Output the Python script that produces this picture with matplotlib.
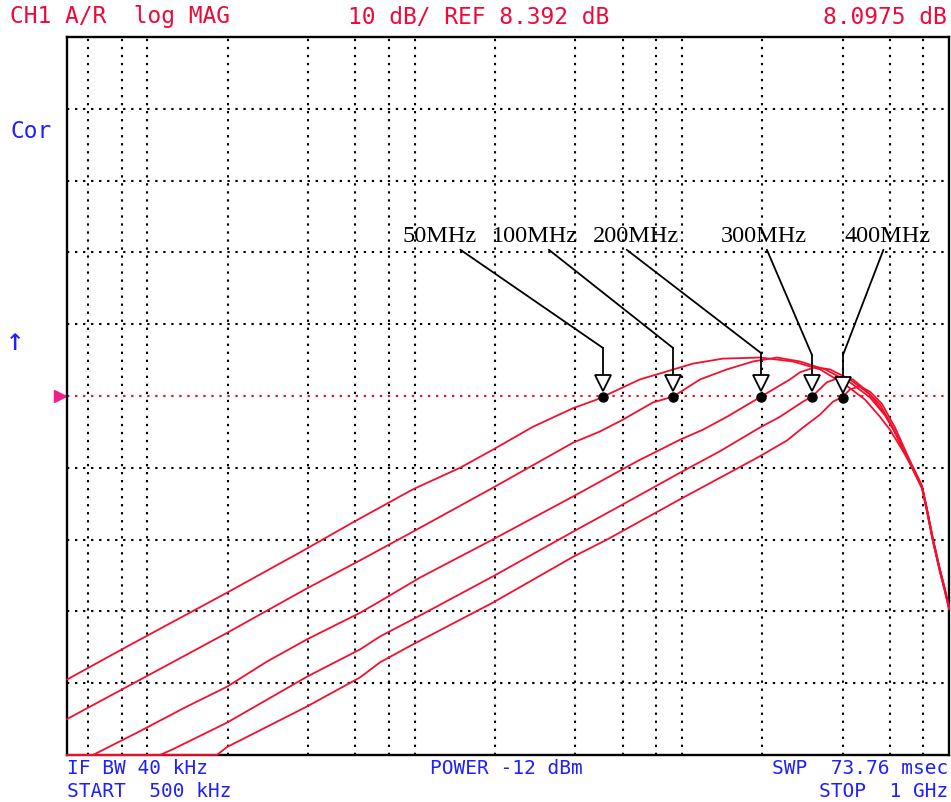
import numpy as np
import matplotlib.pyplot as plt
import matplotlib.transforms as mtransforms

# --- analyzer settings (log sweep 500 kHz .. 1 GHz, 10 dB/div) ---
ref_db = 8.392
db_per_div = 10
f_start, f_stop = 0.5, 1000.0          # MHz

# vertical graticule lines (MHz)
grid_freqs = [0.6, 0.8, 1, 2, 4, 6, 8, 10, 20, 40, 60, 80, 100, 200, 400, 600, 800]

# --- traces (MHz, dB) ---
f_50 = [0.5, 0.839, 1.985, 3.72, 5.88, 9.86, 14.8, 19.6, 27.7, 39.2, 48.1, 50.7, 69.7, 110,
        142.6, 196, 260.6, 329, 408, 484.7, 551.6, 601, 655.6, 733, 792.5, 827, 871, 924.6, 966, 1000]
db_50 = [-31.1, -26.5, -19.0, -13.4, -9.2, -4.6, -1.6, 0.9, 4.1, 6.7, 7.9, 8.3, 10.7, 12.9,
         13.6, 13.75, 13.2, 12.1, 10.0, 7.9, 5.5, 3.7, 1.4, -1.6, -4.2, -7.4, -11.6, -15.8, -18.6, -21.0]

f_100 = [0.5, 0.839, 1.985, 3.955, 6.25, 9.86, 19.6, 39.2, 49.4, 60.2, 78, 92.7, 117, 147.6,
         184.7, 227, 276.8, 343.5, 425.8, 506, 575.8, 628, 672.6, 733, 792.5, 827, 871, 924.6, 966, 1000]
db_100 = [-36.6, -32.1, -24.6, -18.4, -14.5, -10.5, -4.4, 1.9, 3.45, 5.1, 7.5, 8.3, 10.7, 12.1,
          13.2, 13.75, 13.2, 12.1, 10.3, 8.2, 5.7, 3.3, 0.9, -1.9, -4.5, -7.7, -11.9, -16.1, -18.9, -21.3]

f_200 = [0.5, 0.626, 0.789, 0.914, 1.406, 1.985, 2.80, 3.955, 6.25, 7.42, 10.47, 19.6, 39.2, 68,
         98.4, 120, 147.6, 197.8, 254, 276.8, 315, 358.6, 425.8, 506, 586, 655.6, 733, 792.5, 827,
         871, 924.6, 966, 1000]
db_200 = [-41.6, -41.6, -39.7, -38.5, -34.85, -32.1, -28.6, -25.5, -21.8, -20.2, -16.9, -11.6, -5.6, -0.7,
          2.3, 3.7, 5.5, 8.3, 10.7, 11.7, 12.4, 12.1, 10.7, 8.6, 5.4, 2.0, -1.8, -4.4, -7.6,
          -11.8, -16.0, -18.8, -21.2]

f_300 = [0.5, 1.115, 1.246, 1.985, 3.955, 6.25, 7.42, 9.86, 19.6, 39.2, 60.2, 98.4, 138.9, 196,
         233, 284, 307, 349, 390.8, 437, 484.7, 551.6, 617, 684, 733, 792.5, 827, 871, 924.6, 966, 1000]
db_300 = [-41.6, -41.6, -40.8, -37.1, -30.7, -26.9, -25.1, -22.7, -16.75, -10.5, -6.7, -2.3, 0.7, 4.0,
          5.5, 7.6, 8.3, 10.3, 11.0, 10.7, 9.3, 7.2, 4.0, 0.5, -1.7, -4.3, -7.5, -11.7, -15.9, -18.7, -21.1]

f_400 = [0.5, 1.821, 1.985, 3.955, 6.25, 7.42, 9.86, 19.6, 39.2, 52.5, 98.4, 196, 247.6, 284,
         329, 368, 401, 425.8, 464, 506, 561, 628, 696, 733, 792.5, 827, 871, 924.6, 966, 1000]
db_400 = [-41.6, -41.6, -40.5, -34.85, -30.8, -28.7, -26.2, -20.4, -14.0, -11.6, -6.0, 0.0, 2.2, 4.0,
          5.8, 7.6, 8.3, 9.3, 9.75, 9.0, 7.3, 4.0, 0.3, -1.5, -4.1, -7.3, -11.5, -15.7, -18.5, -20.9]

traces = [(f_50, db_50), (f_100, db_100), (f_200, db_200), (f_300, db_300), (f_400, db_400)]

# markers and their callouts
marker_labels = ['50MHz', '100MHz', '200MHz', '300MHz', '400MHz']
marker_freqs = [50.7, 92.7, 197.8, 307, 401]
marker_db = [8.3, 8.3, 8.3, 8.3, 8.1]
label_x = [0.4229, 0.5306, 0.6451, 0.7902, 0.9308]     # axes fraction
label_relpos = [0.72, 0.62, 0.35, 0.52, 0.46]
kink_y = [0.5669, 0.5669, 0.5599, 0.5571, 0.5571]
tri_top_y = [0.5265, 0.5265, 0.5237, 0.5237, 0.5237]

RED = '#f0083a'
BLUE = '#1f1fff'
TRACE = '#f2102e'

fig = plt.figure(figsize=(9.51, 8.02), dpi=100)
fig.patch.set_facecolor('white')
W, H = 951, 802
ax = fig.add_axes([67 / W, (H - 755) / H, 882 / W, 718 / H])

ax.set_xscale('log')
ax.set_xlim(f_start, f_stop)
ax.set_ylim(ref_db - 5 * db_per_div, ref_db + 5 * db_per_div)
ax.set_xticks([])
ax.set_yticks([])
ax.minorticks_off()
for s in ax.spines.values():
    s.set_linewidth(1.7)
    s.set_color('black')
    s.set_zorder(2.5)

# graticule
dots = (0, (1.1, 2.75))
for f in grid_freqs:
    ax.axvline(f, color='black', lw=1.5, ls=dots, zorder=1)
for k in [-4, -3, -2, -1, 1, 2, 3, 4]:
    ax.axhline(ref_db + k * db_per_div, color='black', lw=1.5, ls=dots, zorder=1)
ax.axhline(ref_db, color='#f01020', lw=1.5, ls=dots, zorder=1)

# reference position pointer
ref_tr = mtransforms.blended_transform_factory(ax.transAxes, ax.transData)
ax.plot([-0.0085], [ref_db], marker='>', ms=8, color='#f0208a', transform=ref_tr, clip_on=False)

# traces
for f, d in traces:
    ax.plot(f, d, color=TRACE, lw=1.3, zorder=3, clip_on=False)

# markers: filled dot + open triangle above
tri_tr = ax.transData + mtransforms.ScaledTranslation(0, 0.135, fig.dpi_scale_trans)
ax.plot(marker_freqs, marker_db, 'o', color='black', ms=6.5, zorder=5)
ax.plot(marker_freqs, marker_db, 'v', mfc='white', mec='black', mew=1.3, ms=11,
        transform=tri_tr, zorder=5)

blend = mtransforms.blended_transform_factory(ax.transData, ax.transAxes)
for lab, fm, lx, rp, ky, ty in zip(marker_labels, marker_freqs, label_x, label_relpos, kink_y, tri_top_y):
    ax.plot([fm, fm], [ky, ty], color='black', lw=1.3, transform=blend, zorder=4)
    ax.annotate(lab, xy=(fm, ky), xycoords=('data', 'axes fraction'),
                xytext=(lx, 0.7222), textcoords='axes fraction',
                ha='center', va='center', fontsize=17.5, family='Liberation Serif', color='black',
                arrowprops=dict(arrowstyle='-', color='black', lw=1.3, relpos=(rp, 0),
                                shrinkA=0, shrinkB=0))

# screen annotations
mono = dict(family='DejaVu Sans Mono', fontsize=16.5, va='center')
fig.text(10 / W, 1 - 17 / H, 'CH1 A/R  log MAG', color=RED, **mono)
fig.text(348 / W, 1 - 17 / H, '10 dB/ REF 8.392 dB', color=RED, **mono)
fig.text(947 / W, 1 - 17 / H, '8.0975 dB', color=RED, ha='right', **mono)
fig.text(10 / W, 1 - 132 / H, 'Cor', color=BLUE, **mono)
fig.text(6 / W, 1 - 342 / H, '\u2191', color=BLUE, family='DejaVu Sans Mono', fontsize=22, va='center')

low = dict(family='DejaVu Sans Mono', fontsize=14, va='baseline')
fig.text(67 / W, 1 - 774 / H, 'IF BW 40 kHz', color=BLUE, **low)
fig.text(67 / W, 1 - 797 / H, 'START  500 kHz', color=BLUE, **low)
fig.text(430 / W, 1 - 774 / H, 'POWER -12 dBm', color=BLUE, **low)
fig.text(948 / W, 1 - 774 / H, 'SWP  73.76 msec', color=BLUE, ha='right', **low)
fig.text(948 / W, 1 - 797 / H, 'STOP  1 GHz', color=BLUE, ha='right', **low)

fig.savefig('out.png', dpi=100)
